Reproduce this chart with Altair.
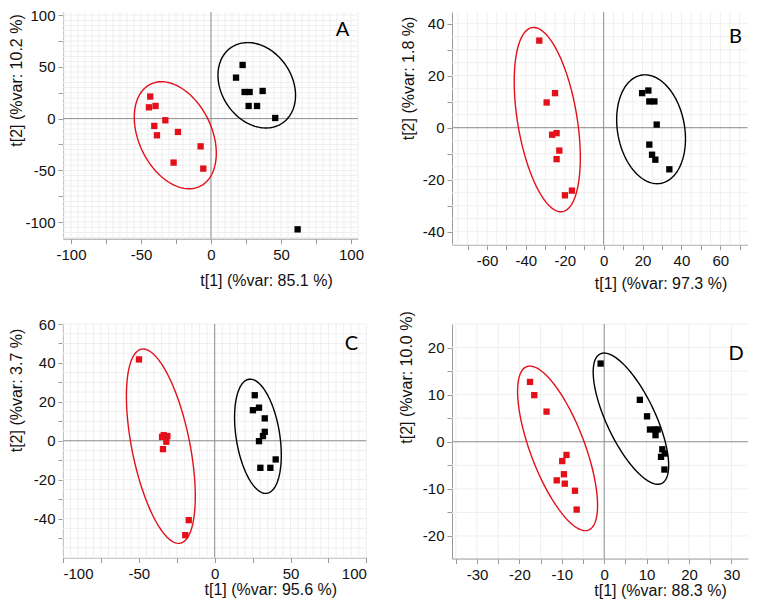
import altair as alt
import numpy as np
import pandas as pd

RED = "#e3101a"
BLACK = "#000000"
GRID = "#efefef"
ZERO = "#8f8f8f"
AXIS = "#9a9a9a"

# ---------------- data ----------------
A_red_x = [-43.4, -44.3, -39.6, -40.5, -32.6, -38.6, -23.6, -7.4, -26.7, -5.5]
A_red_y = [21.3, 10.9, 12.2, -7.1, -1.6, -16.1, -12.9, -26.8, -42.5, -48.3]
A_blk_x = [22.6, 17.9, 24.0, 27.6, 36.9, 26.9, 32.9, 45.9, 61.9]
A_blk_y = [51.8, 39.6, 25.7, 25.7, 26.7, 12.2, 12.2, 0.6, -107.0]

B_red_x = [-33.1, -25.0, -29.3, -26.5, -24.2, -22.8, -24.2, -19.9, -16.3]
B_red_y = [33.5, 13.3, 9.7, -2.7, -2.1, -8.8, -12.1, -26.0, -24.2]
B_blk_x = [19.8, 23.0, 23.5, 26.1, 27.3, 23.5, 24.9, 26.6, 33.8]
B_blk_y = [13.3, 14.3, 10.1, 10.1, 1.2, -6.5, -10.4, -12.3, -16.0]

C_red_x = [-49.9, -33.6, -31.2, -34.7, -31.9, -34.1, -17.1, -19.4]
C_red_y = [41.8, 2.9, 2.4, 2.0, -0.5, -4.3, -40.8, -48.5]
C_blk_x = [26.4, 25.2, 29.2, 33.0, 33.0, 31.8, 29.2, 30.1, 36.7, 40.2]
C_blk_y = [23.4, 15.7, 17.0, 11.5, 4.6, 2.4, -0.2, -13.9, -13.9, -9.6]

D_red_x = [-17.5, -16.5, -13.6, -8.9, -9.9, -9.5, -11.2, -9.3, -6.9, -6.5]
D_red_y = [12.7, 9.9, 6.4, -2.8, -4.1, -6.9, -8.2, -8.9, -10.4, -14.4]
D_blk_x = [-0.85, 8.4, 10.1, 10.8, 12.0, 12.6, 12.1, 13.7, 14.3, 13.4, 14.2]
D_blk_y = [16.6, 8.9, 5.4, 2.6, 2.6, 2.6, 1.4, -1.6, -2.5, -3.2, -5.9]

# confidence ellipses: centre x, centre y, half-axis to the rightmost point (dx, dy), vertical half-chord
A_ell_red = [-25.5, -16.1, 29.3, -17.4, 48.7]
A_ell_blk = [32.7, 32.2, 27.7, -9.7, 40.1]
B_ell_red = [-29.0, 3.1, 17.0, -14.6, 32.3]
B_ell_blk = [24.4, -0.6, 17.7, -3.7, 20.6]
C_ell_red = [-35.5, -2.8, 22.7, -25.7, 42.8]
C_ell_blk = [28.5, 2.3, 15.4, -9.7, 27.7]
D_ell_red = [-11.0, -1.4, 9.43, -12.1, 12.6]
D_ell_blk = [6.3, 4.9, 8.9, -9.9, 9.8]

# axis ticks
A_xticks = [-100, -75, -50, -25, 0, 25, 50, 75, 100]
A_yticks = [-100, -75, -50, -25, 0, 25, 50, 75, 100]
B_xticks = [-70, -60, -50, -40, -30, -20, -10, 0, 10, 20, 30, 40, 50, 60, 70]
B_yticks = [-40, -30, -20, -10, 0, 10, 20, 30, 40]
C_xticks = [-100, -75, -50, -25, 0, 25, 50, 75, 100]
C_yticks = [-50, -40, -30, -20, -10, 0, 10, 20, 30, 40, 50, 60]
D_xticks = [-35, -30, -25, -20, -15, -10, -5, 0, 5, 10, 15, 20, 25, 30]
D_yticks = [-20, -15, -10, -5, 0, 5, 10, 15, 20]

A_xtitle, A_ytitle = "t[1] (%var: 85.1 %)", "t[2] (%var: 10.2 %)"
B_xtitle, B_ytitle = "t[1] (%var: 97.3 %)", "t[2] (%var: 1.8 %)"
C_xtitle, C_ytitle = "t[1] (%var: 95.6 %)", "t[2] (%var: 3.7 %)"
D_xtitle, D_ytitle = "t[1] (%var: 88.3 %)", "t[2] (%var: 10.0 %)"

color_scale = alt.Scale(domain=["red", "black"], range=[RED, BLACK])


def ellipse_df(par, g):
    cx, cy, ux, uy, vy = par
    t = np.linspace(0, 2 * np.pi, 145)
    return pd.DataFrame({"x": cx + ux * np.cos(t),
                         "y": cy + uy * np.cos(t) + vy * np.sin(t),
                         "i": np.arange(len(t)), "g": g})


def panel(rx, ry, bx, by, ered, eblk, xdom, ydom, kx, ky, xt, yt, xstep, ystep,
          xtitle, ytitle, xtpos, ytpos, letter, lpos):
    w = (xdom[1] - xdom[0]) * kx
    h = (ydom[1] - ydom[0]) * ky
    xs = alt.Scale(domain=xdom, nice=False, zero=False)
    ys = alt.Scale(domain=ydom, nice=False, zero=False)

    pts = pd.concat([pd.DataFrame({"x": rx, "y": ry, "g": "red"}),
                     pd.DataFrame({"x": bx, "y": by, "g": "black"})])
    ell = pd.concat([ellipse_df(ered, "red"), ellipse_df(eblk, "black")])
    gx = pd.DataFrame({"x": np.arange(np.ceil(xdom[0] / 5) * 5, xdom[1] + 1e-9, 5)})
    gy = pd.DataFrame({"y": np.arange(np.ceil(ydom[0] / 5) * 5, ydom[1] + 1e-9, 5)})

    xaxis = alt.Axis(values=xt, title=xtitle, grid=False,
                     labelExpr=f"datum.value % {xstep} === 0 ? '' + datum.value : ''",
                     labelOverlap=False, tickSize=5, tickColor=AXIS, domainColor=AXIS,
                     labelPadding=4, titleX=xtpos[0], titleY=xtpos[1],
                     titleBaseline="middle", titleAlign="center")
    yaxis = alt.Axis(values=yt, title=ytitle, grid=False,
                     labelExpr=f"datum.value % {ystep} === 0 ? '' + datum.value : ''",
                     labelOverlap=False, tickSize=5, tickColor=AXIS, domainColor=AXIS,
                     labelPadding=3, titleX=ytpos[0], titleY=ytpos[1], titleAngle=270,
                     titleBaseline="middle", titleAlign="center")

    X = alt.X("x:Q", scale=xs, axis=xaxis)
    Y = alt.Y("y:Q", scale=ys, axis=yaxis)

    grid_x = alt.Chart(gx).mark_rule(color=GRID, strokeWidth=1).encode(x=X)
    grid_y = alt.Chart(gy).mark_rule(color=GRID, strokeWidth=1).encode(y=Y)
    zero_x = alt.Chart(pd.DataFrame({"x": [0]})).mark_rule(color=ZERO, strokeWidth=1).encode(x=X)
    zero_y = alt.Chart(pd.DataFrame({"y": [0]})).mark_rule(color=ZERO, strokeWidth=1).encode(y=Y)
    lines = alt.Chart(ell).mark_line(strokeWidth=1.4).encode(
        x=X, y=Y,
        color=alt.Color("g:N", scale=color_scale, legend=None),
        order="i:Q")
    dots = alt.Chart(pts).mark_square(size=40, opacity=1, filled=True).encode(
        x=X, y=Y,
        color=alt.Color("g:N", scale=color_scale, legend=None))
    lab = alt.Chart(pd.DataFrame({"t": [letter]})).mark_text(
        font="Lato", fontSize=20, color="black", align="center", baseline="middle").encode(
        text="t:N", x=alt.value(lpos[0]), y=alt.value(lpos[1]))
    return alt.layer(grid_x, grid_y, zero_x, zero_y, lines, dots, lab).properties(
        width=w, height=h)


pA = panel(A_red_x, A_red_y, A_blk_x, A_blk_y, A_ell_red, A_ell_blk,
           [-105.7, 105], [-116, 103], 1.4, 1.035, A_xticks, A_yticks, 50, 50,
           A_xtitle, A_ytitle, (203, 42), (-47, 68), "A", (279.5, 17.5))
pB = panel(B_red_x, B_red_y, B_blk_x, B_blk_y, B_ell_red, B_ell_blk,
           [-78, 74], [-45, 44.5], 1.944, 2.6, B_xticks, B_yticks, 20, 20,
           B_xtitle, B_ytitle, (208.5, 39), (-44, 66), "B", (283.5, 24.5))
pC = panel(C_red_x, C_red_y, C_blk_x, C_blk_y, C_ell_red, C_ell_blk,
           [-100, 100], [-60, 60], 1.517, 1.946, C_xticks, C_yticks, 50, 20,
           C_xtitle, C_ytitle, (207.3, 32), (-47, 66), "C", (288.5, 19.5))
pD = panel(D_red_x, D_red_y, D_blk_x, D_blk_y, D_ell_red, D_ell_blk,
           [-35.9, 33.9], [-24.8, 25], 4.24, 4.71, D_xticks, D_yticks, 10, 10,
           D_xtitle, D_ytitle, (208, 32), (-45.2, 53), "D", (284, 29.5))

chart = alt.concat(pA, pB, pC, pD, columns=2, spacing={"row": 79, "column": 85},
                   bounds="flush").properties(
    padding={"left": 0, "top": 0, "right": 0, "bottom": 0}
).configure_view(stroke=None).configure_axis(
    labelFont="Liberation Sans", labelFontSize=15, labelColor="#111111",
    titleFont="Liberation Sans", titleFontSize=16, titleFontWeight="normal",
    titleColor="#111111")

chart.save("out.html", embed_options={"renderer": "svg", "actions": False})
